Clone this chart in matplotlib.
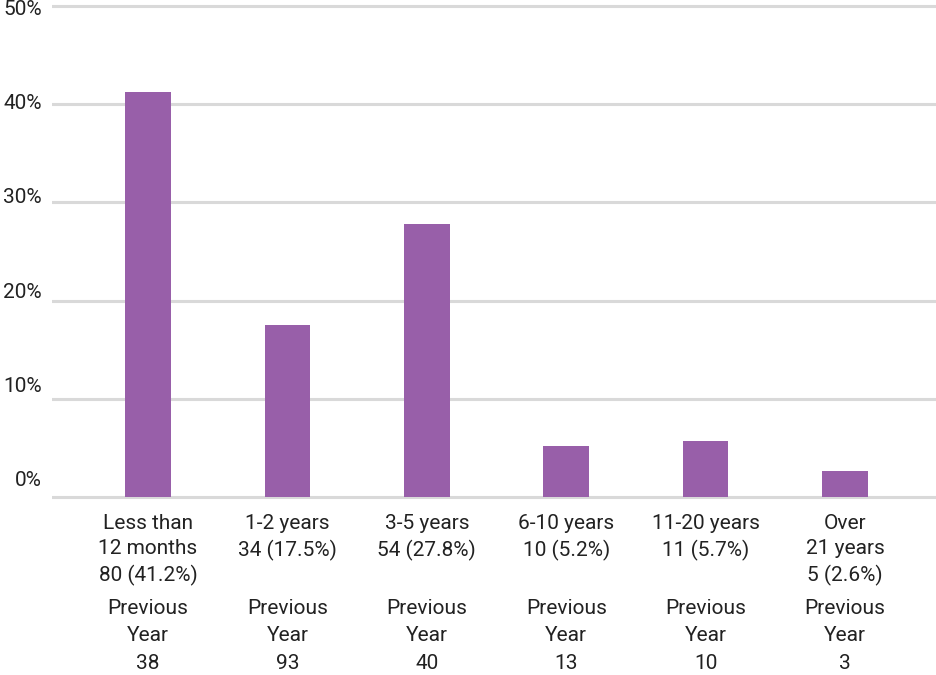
import matplotlib
matplotlib.use("Agg")
import matplotlib.pyplot as plt
from matplotlib.transforms import blended_transform_factory

categories = ["Less than\n12 months", "1-2 years", "3-5 years", "6-10 years", "11-20 years", "Over\n21 years"]
counts = [80, 34, 54, 10, 11, 5]
percents = [41.2, 17.5, 27.8, 5.2, 5.7, 2.6]
previous_year = [38, 93, 40, 13, 10, 3]
y_ticks = [0, 10, 20, 30, 40, 50]

W, H = 937, 675
fig = plt.figure(figsize=(W / 100, H / 100), dpi=100)
plt.rcParams['font.family'] = ['Roboto', 'DejaVu Sans']

# axes placement (pixels)
px_per_unit = 9.82
y0_px = 497.0
ymin, ymax = -0.6, 50.6
bot_px = y0_px - ymin * px_per_unit
top_px = y0_px - ymax * px_per_unit
x_first = 148.0
spacing = 139.4
left_px, right_px = 52.0, 937.0
xmin = (left_px - x_first) / spacing
xmax = (right_px - x_first) / spacing

ax = fig.add_axes([left_px / W, 1 - bot_px / H, (right_px - left_px) / W, (bot_px - top_px) / H])
ax.set_xlim(xmin, xmax)
ax.set_ylim(ymin, ymax)
for s in ax.spines.values():
    s.set_visible(False)
ax.set_xticks([])
ax.set_yticks([])

grid_color = "#d9d9d9"
for v in y_ticks:
    ax.axhline(v, color=grid_color, lw=2.2, zorder=1)

xs = list(range(len(categories)))
ax.bar(xs, percents, width=0.327, color="#985fa9", zorder=2)

# y labels
tr_y = blended_transform_factory(fig.transFigure, ax.transData)
for v in y_ticks:
    ax.text(42 / W, 1.63 + 0.961 * v, f"{v}%", transform=tr_y, ha="right", va="center",
            fontsize=15, color="#222222")

# x labels
tr_x = blended_transform_factory(ax.transData, fig.transFigure)
for i, (c, n, p, pv) in enumerate(zip(categories, counts, percents, previous_year)):
    ax.text(i, 1 - 514 / H, f"{c}\n{n} ({p}%)", transform=tr_x, ha="center", va="top",
            fontsize=15, linespacing=1.42, color="#222222")
    ax.text(i, 1 - 599 / H, f"Previous\nYear\n{pv}", transform=tr_x, ha="center", va="top",
            fontsize=15, linespacing=1.56, color="#222222")

fig.savefig("out.png", dpi=100)
